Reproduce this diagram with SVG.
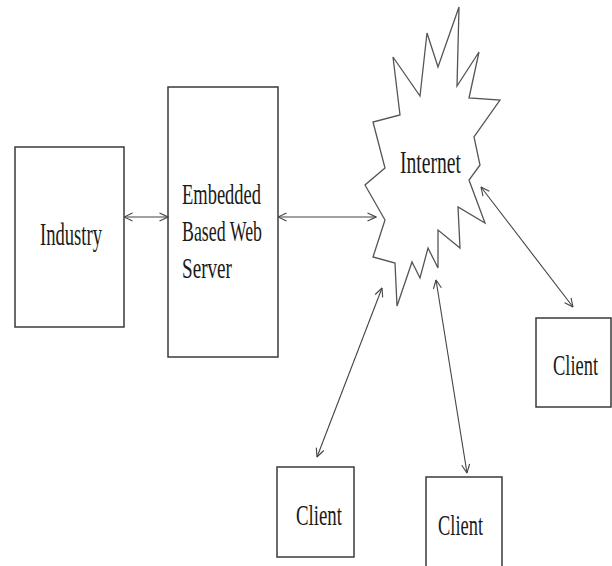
<svg xmlns="http://www.w3.org/2000/svg" width="612" height="566" viewBox="0 0 612 566">
<defs>
<style>
.box{fill:#fff;stroke:#3a3a3a;stroke-width:1.5}
.lbl{font-family:"Liberation Serif","Times New Roman",serif;font-size:19px;fill:#1a1a1a}
.con{stroke:#444;stroke-width:1.1;fill:none;marker-start:url(#arr);marker-end:url(#arr)}
.cloud{fill:#fff;stroke:#555;stroke-width:1.3;stroke-linejoin:miter}
</style>
<marker id="arr" viewBox="0 0 10 10" refX="9.5" refY="5" markerWidth="10" markerHeight="10" markerUnits="userSpaceOnUse" orient="auto-start-reverse">
<path d="M1,1 L9.5,5 L1,9" fill="none" stroke="#444" stroke-width="1.1"/>
</marker>
</defs>
<rect width="612" height="566" fill="#fff"/>
<g id="internet">
<polygon class="cloud" points="373,122 385,168 365,185 385,220 373,257 395,263 397,306 412,262 420,278 428,248 438,268 438,230 460,248 458,207 485,223 469,180 480,165 474,137 500,100 469,98 479,52 457,86 459,7 438,67 427,33 420,96 393,57 400,115"/>
<text class="lbl" transform="translate(400,173) scale(1,1.65)" textLength="61" lengthAdjust="spacingAndGlyphs">Internet</text>
</g>
<g id="industry">
<rect class="box" x="15" y="147" width="109" height="180"/>
<text class="lbl" transform="translate(40,245) scale(1,1.65)" textLength="62" lengthAdjust="spacingAndGlyphs">Industry</text>
</g>
<g id="server">
<rect class="box" x="168" y="87" width="110" height="270"/>
<text class="lbl" transform="translate(182,204) scale(1,1.6)" textLength="79" lengthAdjust="spacingAndGlyphs">Embedded</text>
<text class="lbl" transform="translate(182,241) scale(1,1.6)" textLength="80" lengthAdjust="spacingAndGlyphs">Based Web</text>
<text class="lbl" transform="translate(182,278) scale(1,1.6)" textLength="50" lengthAdjust="spacingAndGlyphs">Server</text>
</g>
<g id="client1">
<rect class="box" x="277" y="467" width="77" height="90"/>
<text class="lbl" transform="translate(296,525) scale(1,1.6)" textLength="46" lengthAdjust="spacingAndGlyphs">Client</text>
</g>
<g id="client2">
<rect class="box" x="426" y="477" width="76" height="95"/>
<text class="lbl" transform="translate(438,535) scale(1,1.6)" textLength="45" lengthAdjust="spacingAndGlyphs">Client</text>
</g>
<g id="client3">
<rect class="box" x="536" y="318" width="75" height="89"/>
<text class="lbl" transform="translate(553,375) scale(1,1.6)" textLength="45" lengthAdjust="spacingAndGlyphs">Client</text>
</g>
<g id="connectors">
<line class="con" x1="124" y1="217" x2="168" y2="217"/>
<line class="con" x1="278" y1="217" x2="376" y2="217"/>
<line class="con" x1="317" y1="457" x2="382" y2="288"/>
<line class="con" x1="436" y1="280" x2="467" y2="473"/>
<line class="con" x1="481" y1="187" x2="573" y2="307"/>
</g>
</svg>
